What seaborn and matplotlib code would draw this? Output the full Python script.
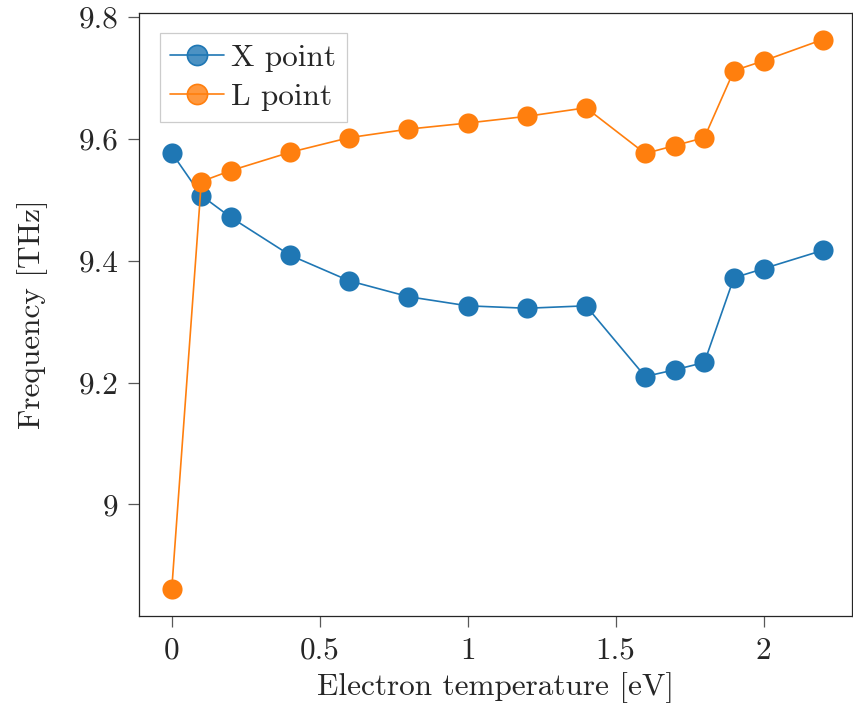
import matplotlib
matplotlib.use("Agg")
import matplotlib.pyplot as plt
from matplotlib.lines import Line2D
import seaborn as sns
import pandas as pd

# Electron temperature [eV]
temperature = [0.0, 0.1, 0.2, 0.4, 0.6, 0.8, 1.0, 1.2, 1.4, 1.6, 1.7, 1.8, 1.9, 2.0, 2.2]
# Phonon frequencies [THz]
x_point = [9.577, 9.507, 9.471, 9.409, 9.367, 9.341, 9.326, 9.322, 9.326,
           9.210, 9.221, 9.233, 9.372, 9.387, 9.417]
l_point = [8.861, 9.530, 9.548, 9.578, 9.602, 9.616, 9.626, 9.637, 9.651,
           9.576, 9.589, 9.602, 9.712, 9.728, 9.763]

series_names = ["X point", "L point"]
series_colors = ["#1f77b4", "#ff7f0e"]

x_ticks = [0, 0.5, 1, 1.5, 2]
x_tick_labels = ["0", "0.5", "1", "1.5", "2"]
y_ticks = [9.0, 9.2, 9.4, 9.6, 9.8]
y_tick_labels = ["9", "9.2", "9.4", "9.6", "9.8"]

df = pd.DataFrame({
    "T": temperature * 2,
    "freq": x_point + l_point,
    "series": [series_names[0]] * len(temperature) + [series_names[1]] * len(temperature),
})

sns.set_style("ticks")
plt.rcParams["font.family"] = ["cmr10", "DejaVu Serif"]
plt.rcParams["mathtext.fontset"] = "cm"
plt.rcParams["axes.formatter.use_mathtext"] = True

FS = 22.5

fig = plt.figure(figsize=(8.54, 7.08), dpi=100)
ax = fig.add_axes([0.163, 0.130, 0.835, 0.852])

sns.lineplot(data=df, x="T", y="freq", hue="series", palette=series_colors,
             marker="o", markersize=14.5, markeredgewidth=0, linewidth=1.2,
             ax=ax, legend=False)

ax.set_xlim(-0.11, 2.30)
ax.set_ylim(8.817, 9.807)
ax.set_xticks(x_ticks, x_tick_labels)
ax.set_yticks(y_ticks, y_tick_labels)
ax.tick_params(axis="both", direction="out", length=8, width=0.9,
               color="0.35", labelsize=FS, pad=7)
for side in ["left", "bottom", "top", "right"]:
    ax.spines[side].set_visible(True)
    ax.spines[side].set_color("0.15")
    ax.spines[side].set_linewidth(0.9)

ax.set_xlabel("Electron temperature [eV]", fontsize=FS, labelpad=5)
ax.set_ylabel("Frequency [THz]", fontsize=FS, labelpad=22)

handles = [
    Line2D([0], [0], color=c, linewidth=1.2, marker="o", markersize=14.5,
           markerfacecolor=matplotlib.colors.to_rgba(c, 0.8),
           markeredgecolor=c, markeredgewidth=1.2)
    for c in series_colors
]
leg = ax.legend(handles, series_names, loc="upper left", fontsize=FS,
                fancybox=False, framealpha=1.0, edgecolor="0.8",
                borderpad=0.35, handlelength=1.7, handletextpad=0.25,
                labelspacing=0.35, borderaxespad=0.65)
leg.get_frame().set_linewidth(0.9)

fig.savefig("out.png", dpi=100)
